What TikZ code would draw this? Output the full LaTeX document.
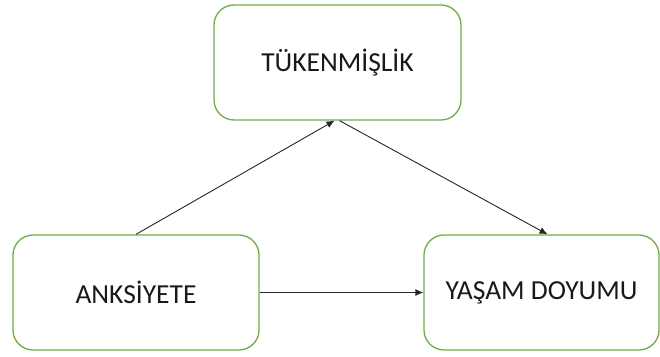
\documentclass[tikz,border=0pt]{standalone}
\usepackage{fontspec}
\setmainfont{Carlito}
\usetikzlibrary{arrows.meta}
\definecolor{boxgreen}{RGB}{112,173,71}
\tikzset{
  varbox/.style={draw=boxgreen, line width=1.3pt, rounded corners=20pt, fill=white,
    minimum height=115pt, inner sep=0pt, font=\fontsize{27.5}{32}\selectfont, text=black!90},
  conn/.style={line width=0.9pt, black!85, -{Latex[length=8pt,width=7pt]}}
}
\begin{document}
\begin{tikzpicture}[x=1pt,y=1pt]
\useasboundingbox (0,0) rectangle (660,356);
\node[varbox, minimum width=247pt] (tuk) at (337.5,293.5) {TÜKENMİŞLİK};
\node[varbox, minimum width=246pt] (ank) at (136,63.5) {ANKSİYETE};
\node[varbox, minimum width=235pt] (yas) at (541.5,63.5) {YAŞAM DOYUMU};
\draw[conn] (ank.north) -- ([xshift=-3pt]tuk.south);
\draw[conn] ([xshift=2pt]tuk.south) -- ([xshift=6pt]yas.north);
\draw[conn] (ank.east) -- (yas.west);
\end{tikzpicture}
\end{document}
